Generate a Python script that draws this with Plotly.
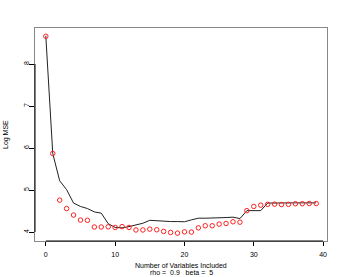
import plotly.graph_objects as go

n_vars = list(range(40))
line_mse = [8.67, 5.87, 5.22, 5.01, 4.69, 4.61, 4.56, 4.48, 4.45, 4.20,
            4.11, 4.10, 4.13, 4.165, 4.21, 4.28, 4.265, 4.255, 4.25, 4.25,
            4.245, 4.29, 4.33, 4.33, 4.33, 4.34, 4.345, 4.355, 4.32, 4.51,
            4.51, 4.51, 4.69, 4.695, 4.695, 4.695, 4.695, 4.695, 4.695, 4.695]
point_mse = [8.66, 5.87, 4.76, 4.56, 4.405, 4.285, 4.28, 4.12, 4.12, 4.125,
             4.11, 4.13, 4.11, 4.05, 4.05, 4.07, 4.055, 4.015, 3.99, 3.975,
             4.005, 4.0, 4.10, 4.15, 4.15, 4.19, 4.205, 4.245, 4.235, 4.51,
             4.61, 4.64, 4.66, 4.665, 4.655, 4.66, 4.675, 4.675, 4.68, 4.68]
x_ticks = [0, 10, 20, 30, 40]
y_ticks = [4, 5, 6, 7, 8]
x_title = "Number of Variables Included"
sub_title = "rho =  0.9   beta =  5"
y_title = "Log MSE"

FONT = "Liberation Sans, Arial, sans-serif"

fig = go.Figure()
fig.add_trace(go.Scatter(x=n_vars, y=line_mse, mode="lines",
                         line=dict(color="#222222", width=1), showlegend=False))
fig.add_trace(go.Scatter(x=n_vars, y=point_mse, mode="markers",
                         marker=dict(symbol="circle-open", size=4.5,
                                     color="#ff2020", line=dict(width=1)),
                         showlegend=False))

xmin, xmax = min(n_vars), max(n_vars)
ymin = min(min(line_mse), min(point_mse))
ymax = max(max(line_mse), max(point_mse))
xpad = (xmax - xmin) * 0.04
ypad = (ymax - ymin) * 0.04

fig.update_layout(
    width=346, height=277,
    margin=dict(l=35, r=19, t=28, b=36),
    paper_bgcolor="white", plot_bgcolor="white",
    font=dict(family=FONT, size=7, color="black"),
    xaxis=dict(range=[xmin - xpad, xmax + xpad], tickvals=x_ticks,
               ticks="outside", ticklen=4, tickcolor="black", tickwidth=1,
               ticklabelstandoff=3,
               showgrid=False, zeroline=False, showline=True, mirror=True,
               linecolor="#888888", linewidth=1,
               tickfont=dict(size=7, family=FONT)),
    yaxis=dict(range=[ymin - ypad, ymax + ypad], tickvals=y_ticks,
               ticks="outside", ticklen=5, tickcolor="black", tickwidth=1,
               tickangle=-90, ticklabelstandoff=-3,
               showgrid=False, zeroline=False, showline=True, mirror=True,
               linecolor="#888888", linewidth=1,
               tickfont=dict(size=7, family=FONT)),
    shapes=[
        dict(type="line", xref="x", yref="paper", x0=x_ticks[0], x1=x_ticks[-1],
             y0=0, y1=0, line=dict(color="black", width=1)),
        dict(type="line", xref="paper", yref="y", x0=0, x1=0,
             y0=y_ticks[0], y1=y_ticks[-1], line=dict(color="black", width=1)),
    ],
    annotations=[
        dict(text=x_title, xref="paper", yref="paper", x=0.5, y=0,
             xanchor="center", yanchor="middle",
             yshift=-24.5, showarrow=False, font=dict(size=7, family=FONT)),
        dict(text=sub_title, xref="paper", yref="paper", x=0.5, y=0,
             xanchor="center", yanchor="middle",
             yshift=-31.5, showarrow=False, font=dict(size=7, family=FONT)),
        dict(text=y_title, xref="paper", yref="paper", x=0, y=0.5,
             xanchor="center", yanchor="middle",
             xshift=-29.5, textangle=-90, showarrow=False,
             font=dict(size=7, family=FONT)),
    ],
)

fig.write_html("out.html", config={"displayModeBar": False},
               post_script="document.body.style.margin='0';"
                           "document.body.style.overflow='hidden';")
